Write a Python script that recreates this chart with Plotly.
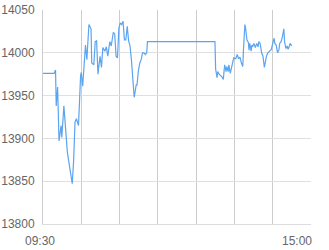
import plotly.graph_objects as go

# minutes after 09:30 (axis position) and index values
t = [0, 16, 18, 19, 21, 23, 26, 27, 30, 33, 35, 38, 42, 44, 46, 48, 51, 54, 55, 57,
     60, 61, 63, 66, 69, 70, 73, 75, 77, 79, 80, 82, 84, 86, 89, 91, 93, 96, 98, 101,
     103, 105, 107, 109, 111, 113, 115, 117, 119, 121, 123, 125, 127, 129, 131, 134, 135, 137, 139, 141,
     143, 145, 147, 149, 150, 247, 248, 250, 251, 253, 255, 257, 259, 261, 263, 264, 266, 267, 269, 271,
     273, 274, 277, 279, 281, 283, 285, 287, 288, 290, 291, 293, 295, 296, 297, 299, 300, 301, 303, 305,
     307, 309, 310, 312, 314, 316, 318, 320, 321, 323, 325, 328, 330, 332, 333, 335, 337, 339, 340, 342,
     344, 346, 347, 349, 351, 352, 354, 355, 356, 357]
v = [13976, 13976, 13980, 13938, 13960, 13897, 13915, 13901, 13938, 13905, 13884, 13868, 13847, 13874, 13919, 13923, 13915, 13973, 13977, 13961,
     14008, 14009, 13992, 14033, 14028, 13988, 13986, 14013, 14014, 13975, 13983, 13996, 13983, 14006, 14002, 14007, 13996, 14013, 14008, 14024,
     14022, 13996, 13994, 14029, 14035, 14033, 14037, 14015, 14015, 14031, 14014, 14008, 13992, 13969, 13948, 13963, 13962, 13979, 13988, 13992,
     14000, 14000, 13998, 14000, 14013, 14013, 13981, 13971, 13978, 13975, 13974, 13972, 13969, 13986, 13978, 13984, 13978, 13986, 13976, 13984,
     13988, 13994, 13993, 13998, 13993, 13995, 13988, 13984, 14004, 14033, 14029, 14015, 14012, 14003, 14011, 14002, 14009, 14007, 14011, 14006,
     14011, 14007, 14013, 14011, 14000, 13996, 13983, 13992, 13996, 14000, 14002, 14004, 14011, 14017, 14011, 14009, 14000, 14004, 14011, 14013,
     14019, 14028, 14013, 14005, 14008, 14004, 14008, 14011, 14010, 14008]

x_range = [0, 385]
x_grid = [0, 55, 110, 165, 220, 275, 330, 385]
x_labels = ["09:30", "15:00"]
y_ticks = [13800, 13850, 13900, 13950, 14000, 14050]

fig = go.Figure()
fig.add_trace(go.Scatter(x=t, y=v, mode="lines",
                         line=dict(color="#5ba4f0", width=1.2),
                         hoverinfo="skip", showlegend=False))

fig.update_layout(
    width=329, height=250,
    margin=dict(l=43, r=18, t=10, b=26, autoexpand=False),
    paper_bgcolor="white", plot_bgcolor="white",
    font=dict(family="Liberation Sans, Arial, sans-serif", size=12, color="#666666"),
    showlegend=False,
)
fig.update_xaxes(range=x_range, tickvals=x_grid, showticklabels=False,
                 showgrid=True, gridcolor="#cccccc", gridwidth=1,
                 zeroline=False, showline=True, linecolor="#dddddd", linewidth=1,
                 mirror=False, fixedrange=True, automargin=False)
fig.update_yaxes(range=[13800, 14050], tickvals=y_ticks,
                 tickformat="d", showgrid=True, gridcolor="#e0e0e0", gridwidth=1,
                 zeroline=False, showline=True, linecolor="#cccccc", linewidth=1,
                 ticks="", ticklabelstandoff=5, fixedrange=True, automargin=False)

fig.add_annotation(x=x_range[0], y=0, xref="x", yref="paper", text=x_labels[0],
                   showarrow=False, xanchor="center", yanchor="top", yshift=-8, xshift=-3,
                   font=dict(size=12, color="#666666"))
fig.add_annotation(x=x_range[1], y=0, xref="x", yref="paper", text=x_labels[1],
                   showarrow=False, xanchor="right", yanchor="top", yshift=-8, xshift=3,
                   font=dict(size=12, color="#666666"))

fig.write_html("out.html")
